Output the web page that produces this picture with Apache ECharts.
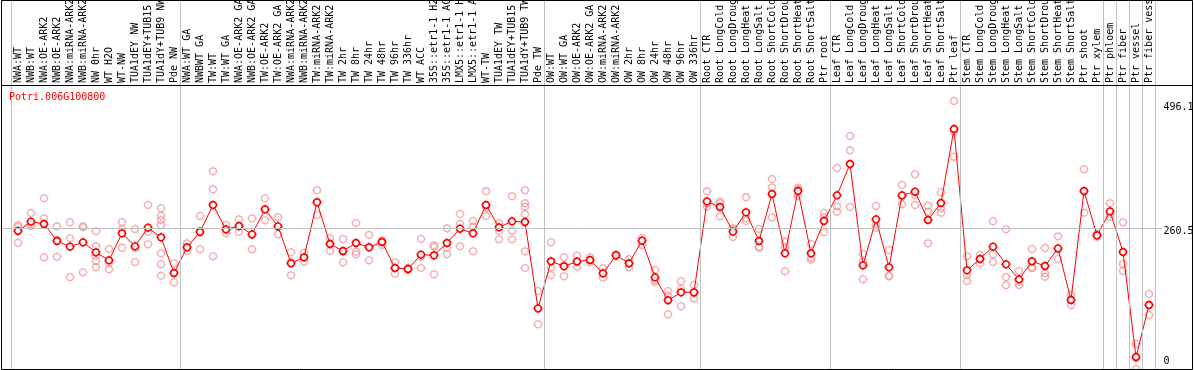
<!DOCTYPE html>
<html><head><meta charset="utf-8">
<script src="https://cdn.jsdelivr.net/npm/echarts@6/dist/echarts.min.js"></script>
<style>html,body{margin:0;padding:0;background:#fff}#c{width:1194px;height:370px}</style>
</head><body><div id="c"></div>
<script>
const chartTitle = 'Potri.006G100800';

const categories = [
  'NWA:WT','NWB:WT','NWA:OE-ARK2','NWB:OE-ARK2','NWA:miRNA-ARK2','NWB:miRNA-ARK2','NW 0hr','WT H2O','WT-NW','TUA1dEY NW',
  'TUA1dEY+TUB15 NW','TUA1dY+TUB9 NW','Pde NW','NWA:WT GA','NWBWT GA','TW:WT','TW:WT GA','NWA:OE-ARK2 GA','NWB:OE-ARK2 GA','TW:OE-ARK2',
  'TW:OE-ARK2 GA','NWA:miRNA-ARK2','NWB:miRNA-ARK2','TW:miRNA-ARK2','TW:miRNA-ARK2','TW 2hr','TW 8hr','TW 24hr','TW 48hr','TW 96hr',
  'TW 336hr','WT ACC','35S::etr1-1 H2O','35S::etr1-1 ACC','LMX5::etr1-1 H2O','LMX5::etr1-1 ACC','WT-TW','TUA1dEY TW','TUA1dEY+TUB15 TW','TUA1dY+TUB9 TW',
  'Pde TW','OW:WT','OW:WT GA','OW:OE-ARK2','OW:OE-ARK2 GA','OW:miRNA-ARK2','OW:miRNA-ARK2','OW 2hr','OW 8hr','OW 24hr',
  'OW 48hr','OW 96hr','OW 336hr','Root CTR','Root LongCold','Root LongDrought','Root LongHeat','Root LongSalt','Root ShortCold','Root ShortDrought',
  'Root ShortHeat','Root ShortSalt','Ptr root','Leaf CTR','Leaf LongCold','Leaf LongDrought','Leaf LongHeat','Leaf LongSalt','Leaf ShortCold','Leaf ShortDrought',
  'Leaf ShortHeat','Leaf ShortSalt','Ptr leaf','Stem CTR','Stem LongCold','Stem LongDrought','Stem LongHeat','Stem LongSalt','Stem ShortCold','Stem ShortDrought',
  'Stem ShortHeat','Stem ShortSalt','Ptr shoot','Ptr xylem','Ptr phloem','Ptr fiber','Ptr vessel','Ptr fiber vessel'
];

const means = [
  255.5, 272.8, 268.5, 237.0, 226.5, 234.5, 216.0, 201.2, 251.2, 227.1,
  261.7, 243.8, 177.8, 225.3, 253.7, 303.6, 258.6, 264.8, 249.3, 295.6,
  264.1, 195.7, 206.8, 308.6, 231.4, 218.5, 233.3, 225.3, 235.1, 187.0,
  185.2, 211.7, 210.5, 233.3, 259.8, 251.2, 303.6, 262.3, 273.4, 272.2,
  112.3, 199.4, 190.1, 199.0, 201.8, 177.1, 210.5, 195.7, 237.6, 169.7,
  127.2, 142.0, 142.0, 310.4, 299.9, 254.3, 290.1, 237.0, 324.0, 214.2,
  329.6, 214.2, 274.0, 321.5, 379.5, 191.9, 277.1, 188.2, 321.5, 328.3,
  275.9, 307.3, 444.3, 182.7, 203.7, 226.5, 193.8, 166.0, 199.4, 190.7,
  223.4, 127.8, 329.6, 247.5, 291.9, 216.6, 22.2, 118.5
];

const replicates = [
  [266.6, 263.5, 233.9], [288.8, 267.9, 264.8], [316.0, 279.0, 206.8], [264.1, 238.8, 208.0], [271.6, 241.9, 169.7],
  [264.1, 262.3, 179.0], [254.9, 227.1, 209.8, 200.6, 188.2], [222.2, 196.9, 184.5], [272.2, 259.2, 224.7], [259.2, 224.0, 198.1],
  [303.6, 254.3, 230.8], [297.5, 283.9, 275.9, 266.6, 214.2, 193.8, 172.8], [195.7, 177.1, 160.5], [232.7, 224.7, 218.5], [283.3, 256.1, 221.6],
  [366.0, 332.6, 208.6], [266.6, 258.0, 251.8], [277.1, 263.5, 254.3], [279.0, 247.5, 221.6], [316.0, 295.6, 275.3],
  [280.8, 263.5, 249.3], [216.0, 197.5, 173.4], [215.4, 206.1, 198.7], [330.8, 309.8, 285.1], [242.5, 232.7, 219.1],
  [240.7, 217.2, 197.5], [270.3, 217.2, 212.3], [248.1, 226.5, 201.2], [238.2, 235.8, 229.6], [197.5, 187.0, 176.5],
  [187.0, 185.2, 183.3], [240.7, 208.0, 187.0], [229.0, 226.5, 175.3], [260.4, 224.7, 212.3], [287.0, 269.1, 227.1],
  [274.0, 263.5, 217.9], [328.9, 298.7, 283.3], [269.7, 256.1, 240.1], [319.7, 256.1, 240.1], [330.8, 306.7, 300.6, 286.4, 217.9, 187.0],
  [144.4, 111.1, 82.7], [234.5, 188.2, 173.4], [206.8, 191.9, 171.6], [209.8, 198.7, 189.5], [206.8, 201.8, 197.5],
  [186.4, 177.1, 169.1], [212.3, 210.5, 208.6], [203.7, 195.7, 188.2], [241.9, 237.6, 229.6], [183.3, 164.8, 161.7],
  [144.4, 135.8, 101.2], [162.3, 148.1, 116.0], [155.5, 140.1, 130.9], [328.9, 306.7, 300.6], [309.8, 306.7, 282.7],
  [260.4, 257.4, 244.4], [317.8, 279.0, 274.0], [259.2, 226.5, 224.7], [351.8, 336.4, 280.8], [235.8, 225.9, 180.8],
  [335.7, 332.6, 320.3], [231.4, 206.1, 202.4], [288.8, 281.4, 253.0], [372.1, 301.2, 291.3], [431.4, 404.8, 299.9],
  [212.9, 198.7, 166.0], [301.8, 266.6, 261.7], [220.3, 172.8, 171.6], [340.7, 319.1, 304.9], [360.4, 322.2, 303.6],
  [302.4, 291.3, 232.7], [327.1, 297.5, 289.5], [496.1, 439.4, 393.1], [208.6, 174.1, 162.9], [211.1, 203.7, 195.7],
  [273.4, 212.3, 198.1], [258.6, 169.7, 154.9], [181.5, 161.7, 155.5], [222.2, 188.2, 187.0], [224.0, 177.1, 171.0],
  [245.6, 220.9, 203.7], [137.0, 127.8, 118.5], [369.7, 329.6, 289.5], [250.0, 247.5, 244.4], [306.7, 287.0, 282.0],
  [271.6, 194.4, 181.5], [46.9, 19.8, 0.0], [138.9, 118.5, 100.0]
];

const groupBoundaries = [0, 13, 41, 53, 63, 73, 84, 85, 86, 87, 88];
const referenceLevel = 260.5;
const yTickLabels = [0, 260.5, 496.1];

const MONO = "'DejaVu Sans Mono', monospace";
const markerPath = 'path://M10,0L10,2.5M10,17.5L10,20M0,10L2.5,10M17.5,10L20,10M17.5,10A7.5,7.5,0,1,1,2.5,10A7.5,7.5,0,1,1,17.5,10Z';

const repPoints = [];
replicates.forEach((arr, i) => arr.forEach(v => repPoints.push([i, v])));

const Y_MIN = 0, Y_MAX = 683.2;
function yAxisDef(values, va, lh, show) {
  return {
    type: 'value', position: 'right', min: Y_MIN, max: Y_MAX, offset: 0,
    axisLine: {show: false}, axisTick: {show: false}, splitLine: {show: false},
    axisLabel: {
      show: show, customValues: values, margin: 8, color: '#000', fontFamily: MONO, fontSize: 10,
      verticalAlign: va, lineHeight: lh, align: 'left',
      formatter: v => String(v)
    }
  };
}

const chart = echarts.init(document.getElementById('c'), null, {renderer: 'canvas'});
chart.setOption({
  animation: false,
  backgroundColor: '#fff',
  title: {
    text: chartTitle, left: 9, top: 92, padding: 0,
    textStyle: {color: '#ff0000', fontFamily: MONO, fontSize: 10, fontWeight: 'normal'}
  },
  grid: {left: 11.5, right: 38.5, top: 0, bottom: 1, containLabel: false, outerBoundsMode: 'none'},
  xAxis: [
    {
      type: 'category', data: categories, position: 'top', offset: -86, boundaryGap: true,
      axisLine: {show: false}, axisTick: {show: false}, splitLine: {show: false},
      axisLabel: {interval: 0, rotate: 90, margin: 3, color: '#000', fontFamily: MONO, fontSize: 10}
    },
    {type: 'value', min: 0, max: categories.length, show: false, splitLine: {show: false}}
  ],
  yAxis: [
    yAxisDef([yTickLabels[2]], 'top', 12.6, true),
    yAxisDef([yTickLabels[1]], 'top', 6.8, true),
    yAxisDef([yTickLabels[0]], 'bottom', 14.6, true)
  ],
  graphic: [
    {type: 'rect', shape: {x: 1.5, y: 0.5, width: 1191, height: 369}, style: {fill: 'none', stroke: '#000', lineWidth: 1}, z: 100, silent: true},
    {type: 'line', shape: {x1: 1, y1: 85.5, x2: 1193, y2: 85.5}, style: {stroke: '#000', lineWidth: 1}, z: 100, silent: true}
  ],
  series: [
    {
      type: 'line', xAxisIndex: 1, yAxisIndex: 0, data: [], symbol: 'none', silent: true, clip: false, z: 0,
      markLine: {
        silent: true, symbol: ['none', 'none'], animation: false,
        label: {show: false},
        lineStyle: {color: '#c0c0c0', width: 1, type: 'solid'},
        emphasis: {disabled: true},
        data: groupBoundaries.map(b => ({xAxis: b})).concat([
          [{x: 1, yAxis: referenceLevel}, {x: 1162, yAxis: referenceLevel}]
        ])
      }
    },
    {
      type: 'scatter', xAxisIndex: 0, yAxisIndex: 0, data: repPoints, z: 2,
      symbol: markerPath, symbolSize: 9, silent: true,
      itemStyle: {color: 'rgba(255,255,255,0)', borderColor: '#f09a9a', borderWidth: 1.3}
    },
    {
      type: 'line', xAxisIndex: 0, yAxisIndex: 0, data: means, z: 3,
      symbol: markerPath, symbolSize: 9, showAllSymbol: true, silent: true,
      lineStyle: {color: '#ff0000', width: 1},
      itemStyle: {color: '#ffffff', borderColor: '#ff0000', borderWidth: 1.6}
    }
  ]
});
</script>
</body></html>
